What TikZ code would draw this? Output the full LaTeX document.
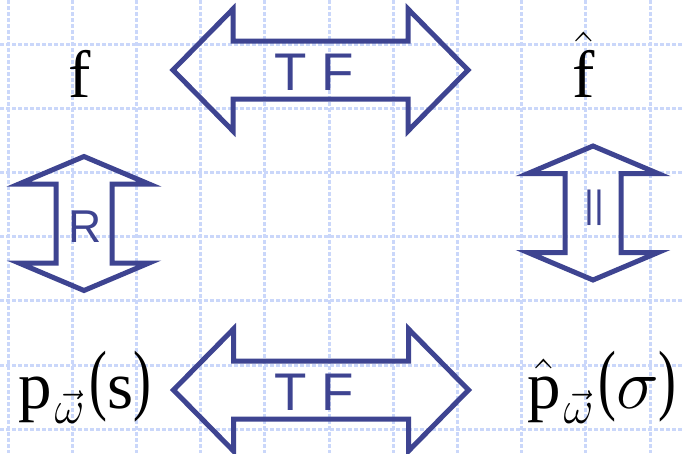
\documentclass[tikz,border=0pt]{standalone}
\usepackage{fix-cm}
\usepackage{graphicx}
\usepackage{fontspec}
\setmainfont{Liberation Serif}
\setsansfont{Liberation Sans}
\usetikzlibrary{positioning}
\definecolor{navy}{RGB}{62,68,145}
\definecolor{gridblue}{RGB}{202,215,250}
\newcommand{\bigpar}[1]{\raisebox{3pt}{\scalebox{0.8}[1.17]{#1}}}
\newcommand{\wvec}{\kern3pt\raisebox{-15pt}{\fontsize{46pt}{46pt}\selectfont$\vec{\omega}$}\kern5pt}

\begin{document}
\begin{tikzpicture}[x=1pt,y=-1pt,
  sym/.style={font=\fontsize{67pt}{67pt}\selectfont,inner sep=0pt,anchor=base},
  lbl/.style={font=\sffamily\fontsize{53pt}{53pt}\selectfont,text=navy,inner sep=0pt},
  gridln/.style={gridblue,line width=3pt,dash pattern=on 4pt off 2pt},
  blk/.style={draw=navy,line width=5pt,line join=miter},
  hdbl/.pic={\draw[blk] (-147.5,0) -- (-87.5,-61) -- (-87.5,-29) -- (87.5,-29)
    -- (87.5,-61) -- (147.5,0) -- (87.5,61) -- (87.5,29) -- (-87.5,29)
    -- (-87.5,61) -- cycle;},
  vdbl/.pic={\draw[blk] (0,-67) -- (65,-39.5) -- (28,-39.5) -- (28,39.5)
    -- (65,39.5) -- (0,67) -- (-65,39.5) -- (-28,39.5) -- (-28,-39.5)
    -- (-65,-39.5) -- cycle;}]
\useasboundingbox[fill=white] (0,0) rectangle (683,453);
\foreach \i in {0,...,10}
  \draw[gridln] ({8+64.2*\i},0) -- ({8+64.2*\i},453);
\foreach \j in {0,...,6}
  \draw[gridln] (0,{44+64.2*\j}) -- (683,{44+64.2*\j});

\node[sym] (f) at (80,97) {f};
\node[sym] (fh) at (584,97) {$\hat{\mbox{f}}$};
\node[sym,anchor=base west] (p) at (18,408) {p\wvec\bigpar(s\bigpar)};
\node[sym,anchor=base west] (ph) at (527,408)
  {$\hat{\mbox{p}}$\wvec\bigpar({\fontsize{72pt}{72pt}\selectfont$\sigma$}\bigpar)};

\pic at (320.5,70) {hdbl};
\node[lbl] (tf1) at (314,72) {T F};
\pic at (321,390) {hdbl};
\node[lbl] (tf2) at (314,392) {T F};
\pic at (84,223.5) {vdbl};
\node[lbl,font=\sffamily\fontsize{46pt}{46pt}\selectfont] (r) at (85,227) {R};
\pic at (593,213) {vdbl};
\node[lbl,font=\sffamily\fontsize{38pt}{38pt}\selectfont] (eq) at (594,207.5) {||};
\end{tikzpicture}
\end{document}
